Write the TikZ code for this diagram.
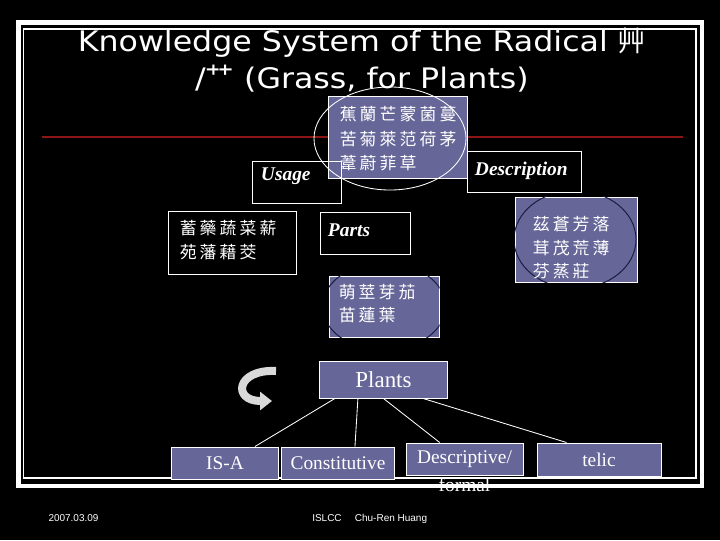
\documentclass[tikz,border=0pt]{standalone}
\usepackage{fontspec}
\setmainfont{Liberation Serif}
\newfontfamily\cjk{Noto Sans CJK TC}
\newfontfamily\titlefont[FakeStretch=1.12]{DejaVu Sans}
\newfontfamily\footfont{Liberation Sans}
\usetikzlibrary{arrows.meta,positioning,calc}
\definecolor{slate}{RGB}{102,102,153}
\definecolor{rulered}{RGB}{140,22,22}
\definecolor{ringblue}{RGB}{28,28,64}
% one row of characters, a little apart
\def\zirow#1{\ifx#1\relax\else#1\hskip2.2pt\relax\expandafter\zirow\fi}

\begin{document}
\begin{tikzpicture}[x=0.025cm,y=-0.025cm,>=Latex,
  slab/.style={draw=white,line width=0.7pt,fill=slate,inner sep=0pt},
  pane/.style={draw=white,line width=0.7pt,inner sep=0pt},
  tag/.style={pane,text=white,font=\fontsize{13.8pt}{16pt}\selectfont\bfseries\itshape,align=left,inner xsep=0.2cm},
  cjktext/.style={text=white,inner sep=0pt,align=left,font=\cjk\fontsize{12pt}{#1}\selectfont},
  kind/.style={slab,text=white,font=\fontsize{13.8pt}{16pt}\selectfont},
  link/.style={white,line width=0.6pt},
  ring/.style={ringblue,line width=0.7pt},
  foot/.style={text=white,inner sep=0pt,anchor=base,font=\footfont\fontsize{7.1pt}{8pt}\selectfont}]
\useasboundingbox (0,0) rectangle (720,540);
\fill[black] (0,0) rectangle (720,540);
% slide frame and rule
\draw[white,line width=3.2pt] (18.3,22.5) rectangle (702,486);
\draw[white,line width=0.9pt] (23.5,29) rectangle (696,478);
\draw[rulered,line width=1.8pt] (42,137) -- (683,137);
\node[text=white,align=center,font=\titlefont\fontsize{20.1pt}{26.2pt}\selectfont] (title) at (362,60) {Knowledge System of the Radical {\cjk 艸}\\/{\cjk 艹} (Grass, for Plants)};

% upper part
\node[slab,minimum width=3.45cm,minimum height=2.05cm] (herb) at (398,137) {};
\node[cjktext=17.4pt,below right=0.275cm and 0.275cm of herb.north west] (herbtx) {\zirow 蕉蘭芒蒙菌蔓\relax\\\zirow 苦菊萊范荷茅\relax\\\zirow 葦蔚菲草\relax};
\draw[white,line width=0.6pt] (390,138.5) ellipse [x radius=1.9cm,y radius=1.2875cm];
\node[tag,text width=1.775cm,inner xsep=0.225cm,text height=0.475cm,text depth=0.575cm] (usage) at (296.5,182) {Usage};
\node[tag,text width=2.45cm,text height=0.6cm,text depth=0.425cm] (desc) at (524,171.5) {Description};
\node[pane,minimum width=3.175cm,minimum height=1.575cm] (uses) at (232.5,242.5) {};
\node[cjktext=16.5pt,below right=0.25cm and 0.275cm of uses.north west] (usestx) {\zirow 蓄藥蔬菜薪\relax\\\zirow 苑藩藉茭\relax};
\node[tag,text width=1.85cm,text height=0.6cm,text depth=0.45cm] (parts) at (365,233) {Parts};

\node[slab,minimum width=2.75cm,minimum height=1.525cm] (organ) at (384,306.5) {};
\begin{scope}
  \clip (organ.north west) rectangle (organ.south east);
  \draw[ring] (384,306.5) ellipse [x radius=1.5375cm,y radius=1.0925cm];
\end{scope}
\node[cjktext=15.9pt,below right=0.225cm and 0.25cm of organ.north west] (organtx) {\zirow 萌莖芽茄\relax\\\zirow 苗蓮葉\relax};

\node[slab,minimum width=3.05cm,minimum height=2.125cm] (trait) at (576,239.5) {};
\begin{scope}
  \clip (trait.north west) rectangle (trait.south east);
  \draw[ring] (575,239.5) ellipse [x radius=1.525cm,y radius=1.225cm];
\end{scope}
\node[cjktext=16.7pt,below right=0.5cm and 0.45cm of trait.north west] (traittx) {\zirow 茲蒼芳落\relax\\\zirow 茸茂荒薄\relax\\\zirow 芬蒸莊\relax};

% lower part
\draw[line width=0.2cm,white!70!gray,-{Triangle[length=0.3cm,width=0.45cm]}] (276,371) .. controls (236,369) and (232,401) .. (272,401);
\node[kind,font=\fontsize{16.3pt}{18pt}\selectfont,minimum width=3.175cm,minimum height=0.925cm] (plants) at (383.5,379.5) {Plants};
\node[kind,minimum width=2.65cm,minimum height=0.8cm] (isa) at (225,463) {IS-A};
\node[kind,minimum width=2.8cm,minimum height=0.8cm] (const) at (338,463) {Constitutive};
\node[kind,minimum width=2.925cm,minimum height=0.8cm] (descr) at (464.5,459) {Descriptive/};
\node[kind,minimum width=3.1cm,minimum height=0.825cm] (telic) at (599,459.5) {telic};
\node[text=white,font=\fontsize{13.8pt}{16pt}\selectfont,inner sep=0pt,below=0.05cm of descr] (formal) {formal};
\draw[link] ($(plants.south west)!.12!(plants.south east)$) -- ($(isa.north west)!.78!(isa.north east)$);
\draw[link] ($(plants.south west)!.3!(plants.south east)$) -- ($(const.north west)!.65!(const.north east)$);
\draw[link] ($(plants.south west)!.5!(plants.south east)$) -- ($(descr.north west)!.29!(descr.north east)$);
\draw[link] ($(plants.south west)!.81!(plants.south east)$) -- ($(telic.north west)!.24!(telic.north east)$);

% footer
\node[foot] (date) at (73.5,521.5) {2007.03.09};
\node[foot] (conf) at (327,521.5) {ISLCC};
\node[foot] (auth) at (391,521.5) {Chu-Ren Huang};
\end{tikzpicture}
\end{document}
